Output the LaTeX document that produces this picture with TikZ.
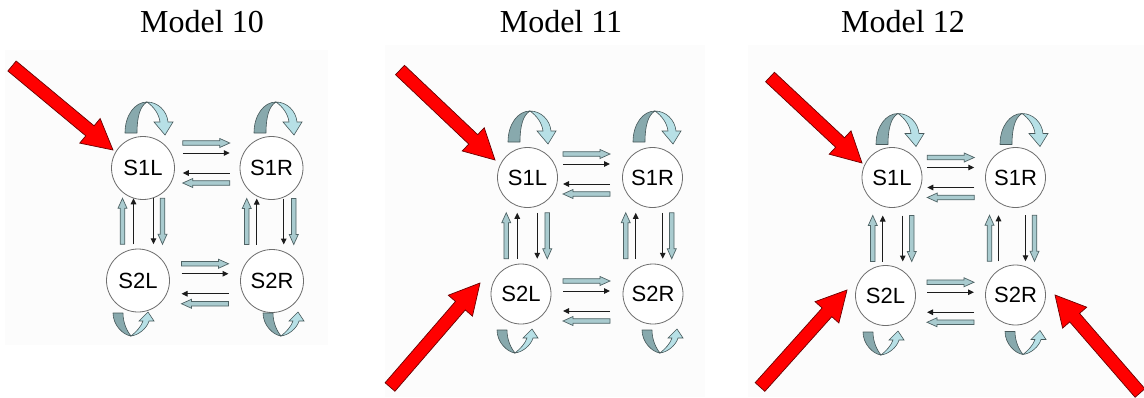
\documentclass[tikz,border=0pt]{standalone}
\usepackage{fontspec}
\setmainfont{Liberation Serif}
\newfontfamily\statefont{Liberation Sans}
\usetikzlibrary{calc,arrows.meta}

\definecolor{panelbg}{HTML}{FCFCFC}
\definecolor{circleline}{HTML}{6E6E6E}
\definecolor{hollowfill}{HTML}{A9CBCF}
\definecolor{hollowline}{HTML}{4F6365}
\definecolor{thinline}{HTML}{1C1C1C}
\definecolor{loopdark}{HTML}{88A9AD}
\definecolor{looplight}{HTML}{B7E0E6}
\definecolor{loopline}{HTML}{46585A}
\definecolor{redline}{HTML}{6A0000}

\tikzset{
  state/.style={circle, draw=circleline, line width=0.8pt, fill=white,
    minimum size=60pt, inner sep=0pt, font=\statefont\fontsize{22}{22}\selectfont},
  title/.style={anchor=base, inner sep=0pt, font=\fontsize{32}{32}\selectfont},
  hollowarrow/.style={fill=hollowfill, draw=hollowline, line width=0.7pt, line join=miter},
  thinarrow/.style={draw=thinline, line width=1pt, -{Triangle[length=6pt,width=5.5pt]}},
  redarrow/.style={fill=red, draw=redline, line width=0.7pt, line join=miter},
  ribbondark/.style={fill=loopdark, draw=loopline, line width=0.6pt, line join=round},
  ribbonlight/.style={fill=looplight, draw=loopline, line width=0.6pt, line join=miter},
}

% block arrow: #1 style, #2 tail, #3 tip, #4 half shaft, #5 half head, #6 head length
\newcommand\fatarrow[6]{%
  \path ($(#3)!#6!(#2)$) coordinate (headbase);
  \filldraw[#1] ($(#2)!#4!90:(#3)$) -- ($(headbase)!#4!90:(#3)$)
    -- ($(headbase)!#5!90:(#3)$) -- (#3) -- ($(headbase)!#5!-90:(#3)$)
    -- ($(headbase)!#4!-90:(#3)$) -- ($(#2)!#4!-90:(#3)$) -- cycle;
}

% four horizontal transitions between #1 (left) and #2 (right); #3,#4 shift of the group
\newcommand\hlinks[4]{%
  \coordinate (hm) at ($(#1)!0.5!(#2)+(#3,#4)$);
  \coordinate (h1a) at ($(hm)+(-23.5,-20)$); \coordinate (h1b) at ($(hm)+(23.5,-20)$);
  \fatarrow{hollowarrow}{h1a}{h1b}{2.3pt}{4.5pt}{10pt}
  \coordinate (h2a) at ($(hm)+(-23.5,-10)$); \coordinate (h2b) at ($(hm)+(23.5,-10)$);
  \draw[thinarrow] (h2a) -- (h2b);
  \coordinate (h3a) at ($(hm)+(23.5,10)$); \coordinate (h3b) at ($(hm)+(-23.5,10)$);
  \draw[thinarrow] (h3a) -- (h3b);
  \coordinate (h4a) at ($(hm)+(23.5,20)$); \coordinate (h4b) at ($(hm)+(-23.5,20)$);
  \fatarrow{hollowarrow}{h4a}{h4b}{2.3pt}{4.5pt}{10pt}
}

% four vertical transitions between #1 (upper) and #2 (lower);
% #3..#6 x offsets (hollow up, thin up, thin down, hollow down), #7 y shift
\newcommand\vlinks[7]{%
  \coordinate (vm) at ($(#1)!0.5!(#2)+(0,#7)$);
  \coordinate (v1a) at ($(vm)+(#3,23)$); \coordinate (v1b) at ($(vm)+(#3,-23)$);
  \fatarrow{hollowarrow}{v1a}{v1b}{2.3pt}{4.5pt}{10pt}
  \coordinate (v2a) at ($(vm)+(#4,23)$); \coordinate (v2b) at ($(vm)+(#4,-23)$);
  \draw[thinarrow] (v2a) -- (v2b);
  \coordinate (v3a) at ($(vm)+(#5,-23)$); \coordinate (v3b) at ($(vm)+(#5,23)$);
  \draw[thinarrow] (v3a) -- (v3b);
  \coordinate (v4a) at ($(vm)+(#6,-23)$); \coordinate (v4b) at ($(vm)+(#6,23)$);
  \fatarrow{hollowarrow}{v4a}{v4b}{2.3pt}{4.5pt}{10pt}
}

% self transition above a state: ribbon arching over from left to right
\newcommand\toploop[3]{%
  \begin{scope}[shift={($(#1)+(#2,#3)$)}]
    \filldraw[ribbondark] (-21,0) .. controls (-21,-18) and (-11,-31) .. (1,-31)
      .. controls (-6,-27) and (-9,-16) .. (-9,0) -- cycle;
    \filldraw[ribbonlight] (1,-31) .. controls (12,-31) and (21,-22) .. (22,-11)
      -- (27,-11) -- (19,2) -- (8,-11) -- (14,-11)
      .. controls (13,-19) and (8,-26) .. (1,-31) -- cycle;
  \end{scope}
}

% self transition below a state: ribbon dipping under from left to right
\newcommand\bottomloop[3]{%
  \begin{scope}[shift={($(#1)+(#2,#3)$)}]
    \filldraw[ribbondark] (-18,0) .. controls (-18,12) and (-8,22) .. (0,23)
      .. controls (-4,18) and (-8,10) .. (-8,0) -- cycle;
    \filldraw[ribbonlight] (0,23) .. controls (8,22) and (16,15) .. (18,8)
      -- (23,8) -- (17,-1) -- (8,8) -- (12,8)
      .. controls (10,14) and (5,19) .. (0,23) -- cycle;
  \end{scope}
}

\begin{document}
\begin{tikzpicture}[x=1pt, y=-1pt]
  \useasboundingbox (0,0) rectangle (1144,397);
  \fill[white] (0,0) rectangle (1144,397);

  % faint panel backgrounds
  \fill[panelbg] (5,50) rectangle (328,345);
  \fill[panelbg] (385,45) rectangle (705,397);
  \fill[panelbg] (748,45) rectangle (1144,397);

  % titles
  \node[title] (t1) at (202,32) {Model 10};
  \node[title] (t2) at (561,32) {Model 11};
  \node[title] (t3) at (903,32) {Model 12};

  % ---------------- Model 10 ----------------
  \node[state, minimum size=63pt] (p1a) at (143,168) {S1L};
  \node[state, minimum size=63pt] (p1b) at (271.5,168) {S1R};
  \node[state, minimum size=63pt] (p1c) at (138,280.5) {S2L};
  \node[state, minimum size=63pt] (p1d) at (272,281) {S2R};
  \hlinks{p1a}{p1b}{-1}{-5}
  \hlinks{p1c}{p1d}{0}{3}
  \vlinks{p1a}{p1c}{-18}{-7}{13}{22}{-3}
  \vlinks{p1b}{p1d}{-25}{-15}{12}{22}{-3}
  \toploop{p1a}{3}{-35}
  \toploop{p1b}{3.5}{-35}
  \bottomloop{p1c}{-7}{32.5}
  \bottomloop{p1d}{9}{32}
  \coordinate (r1s) at (12,66);
  \coordinate (r1t) at (113,150);
  \fatarrow{redarrow}{r1s}{r1t}{6.5pt}{16pt}{30pt}

  % ---------------- Model 11 ----------------
  \node[state] (p2a) at (527.5,177.5) {S1L};
  \node[state] (p2b) at (652.5,177.5) {S1R};
  \node[state] (p2c) at (521,294) {S2L};
  \node[state] (p2d) at (653,294) {S2R};
  \hlinks{p2a}{p2b}{-3.5}{-3.5}
  \hlinks{p2c}{p2d}{-0.5}{7}
  \vlinks{p2a}{p2c}{-18}{-7}{13}{23}{0}
  \vlinks{p2b}{p2d}{-27}{-17}{10}{19}{0}
  \toploop{p2a}{1.5}{-35.5}
  \toploop{p2b}{1.5}{-35.5}
  \bottomloop{p2c}{-6}{36}
  \bottomloop{p2d}{7}{36}
  \coordinate (r2s) at (400,70);
  \coordinate (r2t) at (495,160);
  \fatarrow{redarrow}{r2s}{r2t}{6.5pt}{16pt}{30pt}
  \coordinate (r3s) at (390,387);
  \coordinate (r3t) at (480,283);
  \fatarrow{redarrow}{r3s}{r3t}{6.5pt}{16pt}{30pt}

  % ---------------- Model 12 ----------------
  \node[state] (p3a) at (892,177.5) {S1L};
  \node[state] (p3b) at (1015.5,177.5) {S1R};
  \node[state] (p3c) at (885.5,295.5) {S2L};
  \node[state] (p3d) at (1015.5,295) {S2R};
  \hlinks{p3a}{p3b}{-3}{0}
  \hlinks{p3c}{p3d}{0}{7}
  \vlinks{p3a}{p3c}{-16}{-6}{14}{23}{2}
  \vlinks{p3b}{p3d}{-26}{-17}{10}{19}{2}
  \toploop{p3a}{5}{-33}
  \toploop{p3b}{5.5}{-33}
  \bottomloop{p3c}{-4.5}{36.5}
  \bottomloop{p3d}{7.5}{36.5}
  \coordinate (r4s) at (770,77);
  \coordinate (r4t) at (862,163);
  \fatarrow{redarrow}{r4s}{r4t}{6.5pt}{16pt}{30pt}
  \coordinate (r5s) at (760,387);
  \coordinate (r5t) at (847,290);
  \fatarrow{redarrow}{r5s}{r5t}{6.5pt}{16pt}{30pt}
  \coordinate (r6s) at (1140,393);
  \coordinate (r6t) at (1055,295);
  \fatarrow{redarrow}{r6s}{r6t}{6.5pt}{16pt}{30pt}
\end{tikzpicture}
\end{document}
